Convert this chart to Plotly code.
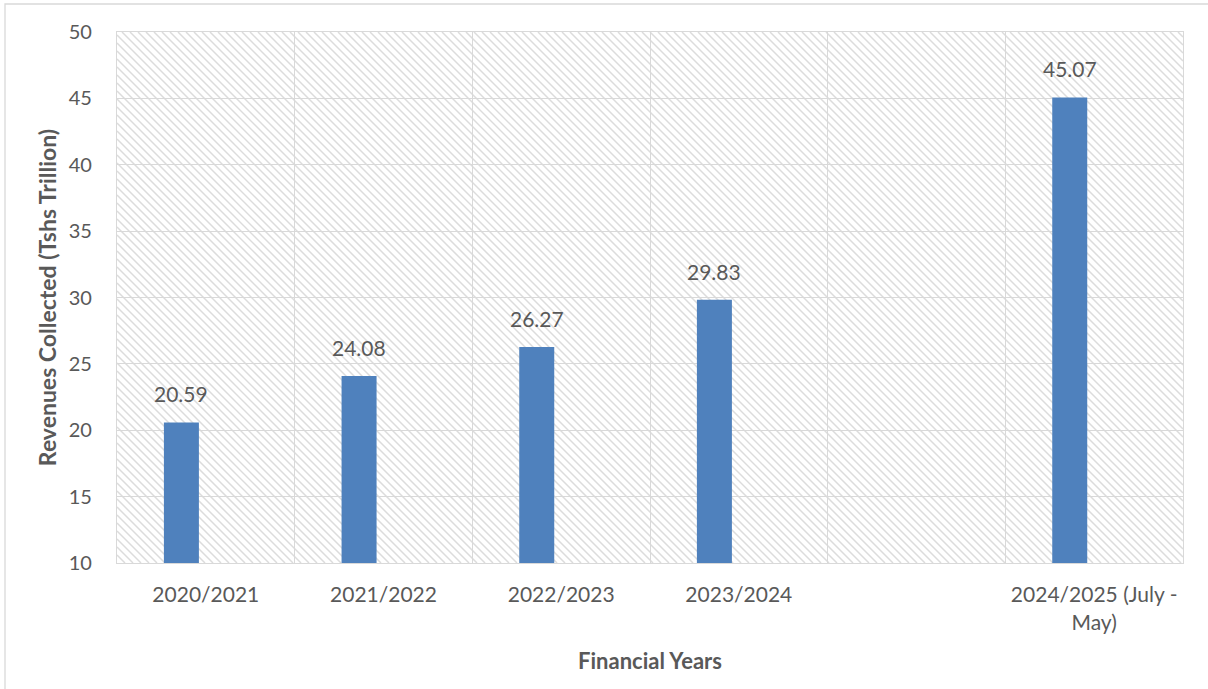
import plotly.graph_objects as go

# Revenue collected per financial year (Tshs trillion)
years = ["2020/2021", "2021/2022", "2022/2023", "2023/2024", " ", "2024/2025 (July -<br>May)"]
bar_years = ["2020/2021", "2021/2022", "2022/2023", "2023/2024", "2024/2025 (July -<br>May)"]
revenues = [20.59, 24.08, 26.27, 29.83, 45.07]
value_labels = ["20.59", "24.08", "26.27", "29.83", "45.07"]

y_min, y_max, y_step = 10, 50, 5

W, H = 1208, 689
M_L, M_R, M_T, M_B = 117, 25, 32, 126
PW, PH = W - M_L - M_R, H - M_T - M_B

TEXT = "#595959"
GRID = "#d9d9d9"
BAR = "#4f81bd"
FONT = "Lato, 'Open Sans', sans-serif"

BAR_WIDTH = 0.197
BAR_OFFSET = -0.236  # bars sit left of the category centre

fig = go.Figure()

fig.add_trace(go.Bar(
    x=bar_years,
    y=[v - y_min for v in revenues],
    base=y_min,
    width=BAR_WIDTH,
    offset=BAR_OFFSET,
    marker=dict(color=BAR, line=dict(width=0)),
    hoverinfo="skip",
))

# value labels above each bar, centred on the shifted bar
label_shift_px = (BAR_OFFSET + BAR_WIDTH / 2) * PW / len(years)
for cat, v, lab in zip(bar_years, revenues, value_labels):
    fig.add_annotation(
        x=cat, y=v, text=lab, showarrow=False,
        yanchor="bottom", yshift=14, xshift=label_shift_px,
        font=dict(family=FONT, size=21, color=TEXT),
    )

# diagonal hatch fill of the plot area, drawn under the gridlines
step = 8
segs = []
start = -PH
while start < PW:
    x0, y0 = start, 0.0
    x1, y1 = start + PH, float(PH)
    if x0 < 0:
        y0 = -x0
        x0 = 0.0
    if x1 > PW:
        y1 = PH - (x1 - PW)
        x1 = float(PW)
    if x1 > x0:
        segs.append("M{:.5f},{:.5f}L{:.5f},{:.5f}".format(
            x0 / PW, 1 - y0 / PH, x1 / PW, 1 - y1 / PH))
    start += step
fig.add_shape(
    type="path", path="".join(segs), xref="paper", yref="paper",
    line=dict(color="rgba(205,205,205,0.7)", width=1.5), layer="below",
)

# outer chart border
fig.add_shape(
    type="rect", xref="paper", yref="paper",
    x0=(5 - M_L) / PW, x1=(1215 - M_L) / PW,
    y0=1 - (720 - M_T) / PH, y1=1 - (4 - M_T) / PH,
    line=dict(color=GRID, width=1.3), layer="below",
)

fig.update_layout(
    width=W, height=H,
    margin=dict(l=M_L, r=M_R, t=M_T, b=M_B),
    paper_bgcolor="white", plot_bgcolor="white",
    showlegend=False,
    font=dict(family=FONT, color=TEXT, size=21),
    xaxis=dict(
        type="category", categoryorder="array", categoryarray=years,
        range=[-0.5, len(years) - 0.5],
        tickson="boundaries", showgrid=True, gridcolor=GRID, gridwidth=1.3,
        ticks="", ticklabelstandoff=13,
        showline=True, linecolor=GRID, linewidth=1.3, mirror=True,
        tickfont=dict(family=FONT, size=21, color=TEXT),
        title=dict(text="<b>Financial Years</b>", standoff=20,
                   font=dict(family=FONT, size=22, color=TEXT)),
    ),
    yaxis=dict(
        range=[y_min, y_max], dtick=y_step, tick0=y_min,
        showgrid=True, gridcolor=GRID, gridwidth=1.3,
        ticks="outside", ticklen=20, tickcolor="rgba(0,0,0,0)",
        showline=True, linecolor=GRID, linewidth=1.3, mirror=True,
        tickfont=dict(family=FONT, size=20, color=TEXT),
        title=dict(text="<b>Revenues Collected (Tshs Trillion)</b>", standoff=5,
                   font=dict(family=FONT, size=23, color=TEXT)),
        zeroline=False,
    ),
)

fig.write_html("out.html")
